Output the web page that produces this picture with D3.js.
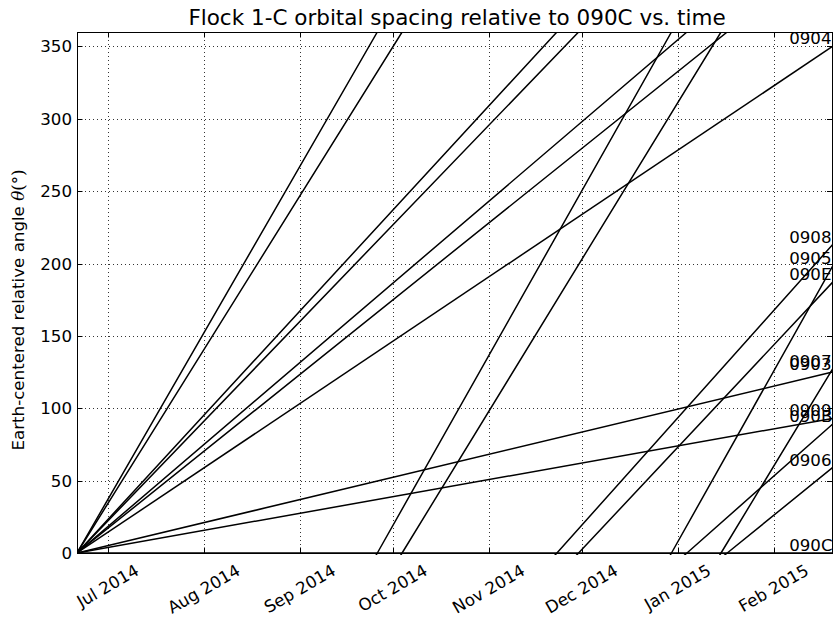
<!DOCTYPE html>
<html>
<head>
<meta charset="utf-8">
<script src="https://cdn.jsdelivr.net/npm/d3@7"></script>
<style>
  body { margin: 0; background: #fff; }
  text { font-family: "DejaVu Sans", sans-serif; }
</style>
</head>
<body>
<div id="chart"></div>
<script>
// unwrapped relative angle (deg) of each satellite
const sat0904 = [["2014-06-21", 0], ["2015-02-20", 350]]
const sat0908 = [["2014-06-21", 0], ["2014-11-23", 360], ["2015-02-20", 573]]
const sat0905 = [["2014-06-21", 0], ["2014-09-26", 360], ["2014-12-30", 720], ["2015-02-20", 918]]
const sat090E = [["2014-06-21", 0], ["2014-11-30", 360], ["2015-02-20", 547]]
const sat0907 = [["2014-06-21", 0], ["2014-10-04", 360], ["2015-01-15", 720], ["2015-02-20", 847]]
const sat0903 = [["2014-06-21", 0], ["2015-02-20", 125]]
const sat0909 = [["2014-06-21", 0], ["2015-02-20", 93]]
const sat090B = [["2014-06-21", 0], ["2015-01-04", 360], ["2015-02-20", 449]]
const sat0906 = [["2014-06-21", 0], ["2015-01-17", 360], ["2015-02-20", 419]]
const sat090C = [["2014-06-21", 0], ["2015-02-20", 0]]

const satNames = ["0904", "0908", "0905", "090E", "0907", "0903", "0909", "090B", "0906", "090C"]
const satData = [sat0904, sat0908, sat0905, sat090E, sat0907, sat0903, sat0909, sat090B, sat0906, sat090C]

const yTicks = [0, 50, 100, 150, 200, 250, 300, 350]
const xTicks = ["2014-07-01", "2014-08-01", "2014-09-01", "2014-10-01", "2014-11-01", "2014-12-01", "2015-01-01", "2015-02-01"]
const xDomain = ["2014-06-21", "2015-02-20"]
const labelDate = "2015-02-06"

const parse = d3.timeParse("%Y-%m-%d")

// set the dimensions of the graph
const W = 833, H = 619
const plot = {left: 77, right: 832.5, top: 32, bottom: 553}

const svg = d3.select("#chart")
  .append("svg")
    .attr("width", W)
    .attr("height", H)

const x = d3.scaleTime()
  .domain(xDomain.map(parse))
  .range([plot.left, plot.right])

const y = d3.scaleLinear()
  .domain([0, 360])
  .range([plot.bottom, plot.top])

svg.append("defs").append("clipPath").attr("id", "clip")
  .append("rect")
    .attr("x", plot.left)
    .attr("y", plot.top)
    .attr("width", plot.right - plot.left)
    .attr("height", plot.bottom - plot.top + 2)

// grid
const grid = svg.append("g")
grid.selectAll(".gx")
  .data(xTicks)
  .join("line")
    .attr("x1", d => Math.round(x(parse(d))) + 0.5)
    .attr("x2", d => Math.round(x(parse(d))) + 0.5)
    .attr("y1", plot.top)
    .attr("y2", plot.bottom)
    .attr("stroke", "#000")
    .attr("stroke-width", 0.8)
    .attr("stroke-dasharray", "1,3")
grid.selectAll(".gy")
  .data(yTicks)
  .join("line")
    .attr("x1", plot.left)
    .attr("x2", plot.right)
    .attr("y1", d => Math.round(y(d)) + 0.5)
    .attr("y2", d => Math.round(y(d)) + 0.5)
    .attr("stroke", "#000")
    .attr("stroke-width", 0.8)
    .attr("stroke-dasharray", "1,3")

// the lines, drawn shifted by whole turns so they wrap at 360
const line = d3.line()
  .x(d => x(parse(d[0])))
  .y(d => y(d[1]))

const lines = svg.append("g").attr("clip-path", "url(#clip)")
satData.forEach(pts => {
  for (let k = 0; k < 3; k++) {
    lines.append("path")
      .attr("d", line(pts.map(p => [p[0], p[1] - 360 * k])))
      .attr("fill", "none")
      .attr("stroke", "#000")
      .attr("stroke-width", 1.5)
  }
})

// spines
svg.append("rect")
  .attr("x", plot.left + 0.5)
  .attr("y", plot.top + 0.5)
  .attr("width", plot.right - plot.left - 0.5)
  .attr("height", plot.bottom - plot.top)
  .attr("fill", "none")
  .attr("stroke", "#000")
  .attr("stroke-width", 1)

// inward ticks on all four sides
const tl = 5.5
const ticks = svg.append("g").attr("stroke", "#000").attr("stroke-width", 1)
xTicks.forEach(d => {
  const xx = Math.round(x(parse(d))) + 0.5
  ticks.append("line").attr("x1", xx).attr("x2", xx).attr("y1", plot.bottom).attr("y2", plot.bottom - tl)
  ticks.append("line").attr("x1", xx).attr("x2", xx).attr("y1", plot.top).attr("y2", plot.top + tl)
})
yTicks.forEach(d => {
  const yy = Math.round(y(d)) + 0.5
  ticks.append("line").attr("x1", plot.left).attr("x2", plot.left + tl).attr("y1", yy).attr("y2", yy)
  ticks.append("line").attr("x1", plot.right).attr("x2", plot.right - tl).attr("y1", yy).attr("y2", yy)
})

// y tick labels
svg.append("g").selectAll("text")
  .data(yTicks)
  .join("text")
    .attr("x", plot.left - 5)
    .attr("y", d => y(d))
    .attr("dy", "0.36em")
    .attr("text-anchor", "end")
    .style("font-size", "16.67px")
    .text(d => d)

// x tick labels, rotated 30 degrees and centred under the tick
const fmt = d3.timeFormat("%b %Y")
svg.append("g").selectAll("text")
  .data(xTicks)
  .join("text")
    .attr("text-anchor", "middle")
    .attr("dominant-baseline", "central")
    .style("font-size", "16.67px")
    .text(d => fmt(parse(d)))
    .each(function(d) {
      const w = this.getComputedTextLength()
      const h = 16.67
      const bh = w * 0.5 + h * 0.866
      d3.select(this).attr("transform",
        `translate(${x(parse(d))},${plot.bottom + 9 + bh / 2}) rotate(-30)`)
    })

// satellite labels at the right
svg.append("g").selectAll("text")
  .data(satNames)
  .join("text")
    .attr("x", x(parse(labelDate)))
    .attr("y", (d, i) => y(satData[i][satData[i].length - 1][1] % 360) - 2)
    .style("font-size", "16.67px")
    .text(d => d)

// title
svg.append("text")
  .attr("x", 457)
  .attr("y", 25)
  .attr("text-anchor", "middle")
  .style("font-size", "21.5px")
  .text("Flock 1-C orbital spacing relative to 090C vs. time")

// y axis label
const yl = svg.append("text")
  .attr("transform", `translate(24,310) rotate(-90)`)
  .attr("text-anchor", "middle")
  .style("font-size", "16.67px")
yl.append("tspan").text("Earth-centered relative angle ")
yl.append("tspan").style("font-family", "DejaVu Serif").style("font-style", "italic").text("θ")
yl.append("tspan").style("font-family", "DejaVu Serif").text("(°)")
</script>
</body>
</html>
